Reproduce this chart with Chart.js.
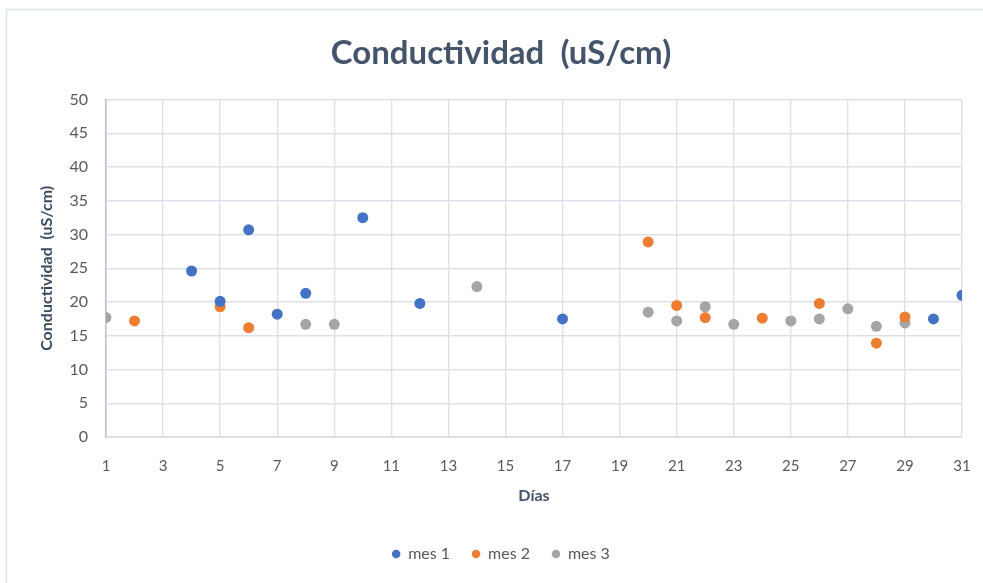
<!DOCTYPE html>
<html>
<head>
<meta charset="utf-8">
<script src="https://cdn.jsdelivr.net/npm/chart.js@4"></script>
<style>
  html, body { margin: 0; padding: 0; background: #fff; }
  #wrap { width: 983px; height: 583px; }
</style>
</head>
<body>
<div id="wrap"><canvas id="myChart" width="983" height="583"></canvas></div>
<script>
    // días y valores
    const mes1Dias = [4, 5, 6, 7, 8, 10, 12, 17, 30, 31];
    const mes1Valores = [24.6, 20.1, 30.7, 18.2, 21.3, 32.5, 19.8, 17.5, 17.5, 21.0];

    const mes2Dias = [2, 5, 6, 20, 21, 22, 24, 26, 28, 29];
    const mes2Valores = [17.2, 19.3, 16.2, 28.9, 19.5, 17.7, 17.6, 19.8, 13.9, 17.8];

    const mes3Dias = [1, 8, 9, 14, 20, 21, 22, 23, 25, 26, 27, 28, 29];
    const mes3Valores = [17.7, 16.7, 16.7, 22.3, 18.5, 17.2, 19.3, 16.7, 17.2, 17.5, 19.0, 16.4, 16.9];

    const xTicks = [1, 3, 5, 7, 9, 11, 13, 15, 17, 19, 21, 23, 25, 27, 29, 31];
    const yTicks = [0, 5, 10, 15, 20, 25, 30, 35, 40, 45, 50];

    const toPoints = (dias, vals) => dias.map((d, i) => ({ x: d, y: vals[i] }));

    // marco del gráfico (solo arriba e izquierda se ven)
    const frame = {
        id: 'frame',
        beforeDraw(chart) {
            const ctx = chart.ctx;
            ctx.save();
            ctx.fillStyle = '#ffffff';
            ctx.fillRect(0, 0, chart.width, chart.height);
            ctx.strokeStyle = '#dde2ea';
            ctx.lineWidth = 1.5;
            ctx.beginPath();
            ctx.moveTo(6.5, chart.height);
            ctx.lineTo(6.5, 9.5);
            ctx.lineTo(chart.width, 9.5);
            ctx.stroke();
            ctx.restore();
        }
    };

    const font = 'Lato, Carlito, "Liberation Sans", sans-serif';

    new Chart('myChart', {
        type: 'scatter',
        data: {
            datasets: [
                { label: 'mes 1', data: toPoints(mes1Dias, mes1Valores), backgroundColor: '#4472c4', borderColor: '#4472c4' },
                { label: 'mes 2', data: toPoints(mes2Dias, mes2Valores), backgroundColor: '#ed7d31', borderColor: '#ed7d31' },
                { label: 'mes 3', data: toPoints(mes3Dias, mes3Valores), backgroundColor: '#a5a5a5', borderColor: '#a5a5a5' }
            ]
        },
        options: {
            responsive: false,
            animation: false,
            layout: { padding: { top: 0, right: 21, bottom: 11, left: 40 } },
            elements: { point: { radius: 5.5, hoverRadius: 5.5, borderWidth: 0 } },
            plugins: {
                title: {
                    display: true,
                    text: 'Conductividad  (uS/cm)',
                    color: '#44546a',
                    font: { family: font, size: 33, weight: 'bold', lineHeight: 1.2 },
                    padding: { top: 34, bottom: 26 }
                },
                legend: {
                    position: 'bottom',
                    labels: {
                        usePointStyle: true,
                        pointStyle: 'circle',
                        boxWidth: 8,
                        boxHeight: 6,
                        padding: 22,
                        color: '#595959',
                        font: { family: font, size: 16 }
                    }
                },
                tooltip: { enabled: false }
            },
            scales: {
                x: {
                    type: 'linear',
                    min: 1,
                    max: 31,
                    afterBuildTicks: (s) => { s.ticks = xTicks.map(v => ({ value: v })); },
                    afterFit: (s) => { s.height = 87; s.paddingRight = 8; s.paddingLeft = 0; },
                    ticks: { autoSkip: false, maxRotation: 0, padding: 20, color: '#595959', font: { family: font, size: 15 } },
                    grid: { color: '#dde2ea', lineWidth: 1.4, drawTicks: false },
                    border: { color: '#d9d9d9', width: 1.4 },
                    title: {
                        display: true,
                        text: 'Días',
                        color: '#44546a',
                        font: { family: font, size: 16, weight: 'bold' },
                        padding: { top: 0, bottom: 19 }
                    }
                },
                y: {
                    min: 0,
                    max: 50,
                    afterBuildTicks: (s) => { s.ticks = yTicks.map(v => ({ value: v })); },
                    afterFit: (s) => { s.width = 66; },
                    ticks: { padding: 18, color: '#595959', font: { family: font, size: 16 } },
                    grid: { color: '#dde2ea', lineWidth: 1.4, drawTicks: false },
                    border: { color: '#b4c2dc', width: 1.5 },
                    title: {
                        display: true,
                        text: 'Conductividad  (uS/cm)',
                        color: '#3b4a5f',
                        font: { family: font, size: 16, weight: 'bold' },
                        padding: { top: -3, bottom: 0 }
                    }
                }
            }
        },
        plugins: [frame]
    });
</script>
</body>
</html>
